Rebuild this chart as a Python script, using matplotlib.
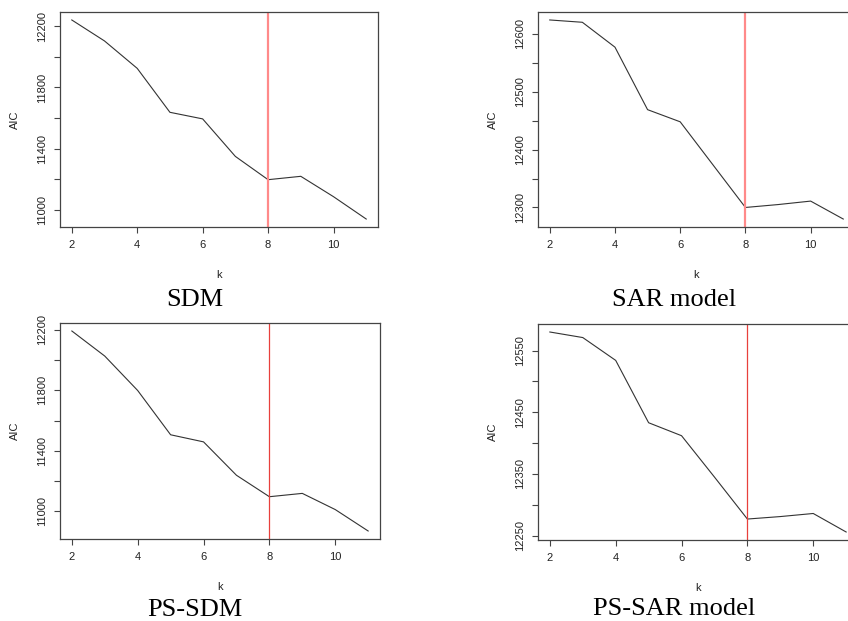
import numpy as np
import matplotlib
matplotlib.use("Agg")
import matplotlib.pyplot as plt

# ── Data ───────────────────────────────────────────────────────────────────────

k = [2, 3, 4, 5, 6, 7, 8, 9, 10, 11]

aic_sdm    = [12241, 12104, 11925, 11638, 11595, 11350, 11198, 11220, 11087, 10941]
aic_sar    = [12624, 12620, 12577, 12469, 12448, 12374, 12300, 12305, 12311, 12280]
aic_ps_sdm = [12193, 12027, 11799, 11506, 11459, 11238, 11096, 11118, 11011, 10869]
aic_ps_sar = [12580, 12571, 12534, 12433, 12412, 12345, 12277, 12281, 12286, 12256]

k_best = 8

x_ticks = [2, 4, 6, 8, 10]
yt_sdm    = [11000, 11200, 11400, 11600, 11800, 12000, 12200]
yt_sar    = [12300, 12350, 12400, 12450, 12500, 12550, 12600]
yt_ps_sdm = [11000, 11200, 11400, 11600, 11800, 12000, 12200]
yt_ps_sar = [12250, 12300, 12350, 12400, 12450, 12500, 12550]

titles = ["SDM", "SAR model", "PS-SDM", "PS-SAR model"]

# ── Layout (pixels) ────────────────────────────────────────────────────────────

W, H = 848, 621
fig = plt.figure(figsize=(W / 100, H / 100), dpi=100)
plt.rcParams['font.family'] = ['Liberation Sans', 'DejaVu Sans']

# left, right, top, bottom
boxes = [(60, 378, 12, 227), (538, 855, 12, 227),
         (60, 380, 323, 539), (538, 858, 324, 540)]
series = [aic_sdm, aic_sar, aic_ps_sdm, aic_ps_sar]
yticks = [yt_sdm, yt_sar, yt_ps_sdm, yt_ps_sar]
vcolors = ["#ff8a8a", "#ff8a8a", "#e8403c", "#e8403c"]
vwidths = [1.6, 1.6, 0.9, 0.9]
title_y = [300, 300, 610, 609]

for i, (l, r, t, b) in enumerate(boxes):
    ax = fig.add_axes([l / W, 1 - b / H, (r - l) / W, (b - t) / H])
    ax.plot(k, series[i], color="#333333", linewidth=0.8)
    ax.axvline(k_best, color=vcolors[i], linewidth=vwidths[i])
    ax.margins(x=0.04, y=0.04)

    ax.set_xticks(x_ticks)
    yt = yticks[i]
    ax.set_yticks(yt)
    ax.set_yticklabels([str(v) if j % 2 == 0 else "" for j, v in enumerate(yt)],
                       rotation=90, va="center")
    ax.tick_params(direction="out", length=4.5, width=0.8, color="#444444",
                   labelsize=8, labelcolor="#222222", pad=5)

    for s in ax.spines.values():
        s.set_color("#444444")
        s.set_linewidth(0.9)

    ax.set_xlabel("k", fontsize=8, color="#222222")
    ax.set_ylabel("AIC", fontsize=8, color="#222222")
    ax.xaxis.set_label_coords(0.5, -43 / (b - t))
    ax.yaxis.set_label_coords(-40 / (r - l), 0.5)

    cx = 195 if i % 2 == 0 else 674
    fig.text(cx / W, 1 - title_y[i] / H, titles[i], ha="center", va="center",
             fontsize=19, family=["Liberation Serif", "DejaVu Serif"])

plt.savefig("out.png", dpi=100)
